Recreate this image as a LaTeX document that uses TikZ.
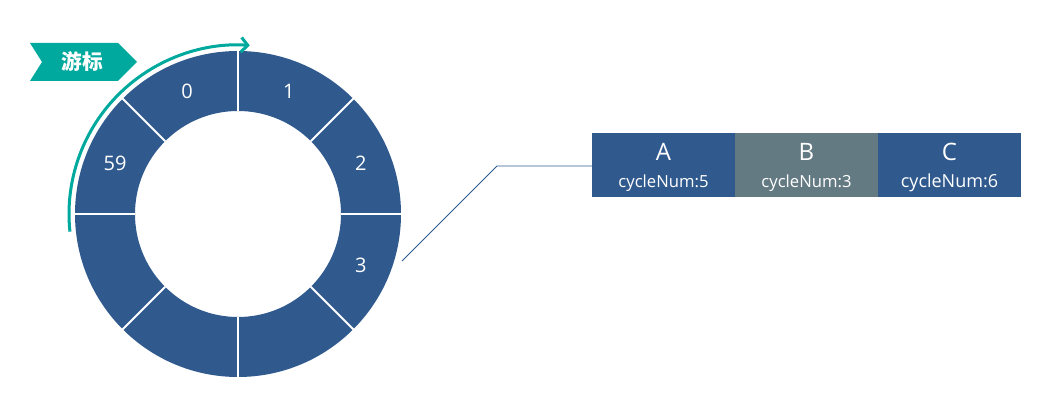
\documentclass[tikz,border=0pt]{standalone}
\usepackage{fontspec}
\setmainfont{Open Sans}
\newfontfamily\cjk{Noto Sans CJK SC}
\usetikzlibrary{arrows.meta,calc}
\definecolor{ringblue}{HTML}{305A8E}
\definecolor{slotgray}{HTML}{647A83}
\definecolor{cursorteal}{HTML}{00A99D}
\tikzset{
  slotlabel/.style={text=white, inner sep=0pt, font=\fontsize{15}{17}\selectfont},
  taskbox/.style={fill=#1, minimum width=107.25pt, minimum height=48pt, inner sep=0pt, outer sep=0pt},
  taskname/.style={text=white, inner sep=0pt, font=\fontsize{18}{21}\selectfont},
  taskcycle/.style={text=white, inner sep=0pt, font=\fontsize{#1}{15}\selectfont},
}

\begin{document}
\begin{tikzpicture}[x=0.75pt, y=0.75pt]
    \useasboundingbox (0, 0) rectangle (1049, 403);
    \coordinate (ctr) at (238, 189);
    % the wheel
    \fill[ringblue, even odd rule] (ctr) circle (163) (ctr) circle (103);
    \foreach \ang in {0, 45, ..., 315}
        \draw[white, line width=1.5pt] ($(ctr)+(\ang:103)$) -- ($(ctr)+(\ang:164)$);
    \foreach \ang/\lbl in {112.5/0, 67.5/1, 22.5/2, -22.5/3, 157.5/59}
        \node[slotlabel] (slot\lbl) at ($(ctr)+(\ang:133)$) {\lbl};
    % cursor
    \draw[cursorteal, line width=2.25pt, -{Straight Barb[length=5pt, width=11pt]}]
        ($(ctr)+(186:169)$) arc[start angle=186, end angle=86, radius=169];
    \fill[cursorteal] (30, 360) -- (118, 360) -- (137, 341) -- (118, 322) -- (30, 322) -- (42, 341) -- cycle;
    \node[text=white, inner sep=0pt, font=\cjk\bfseries\fontsize{15.5}{18}\selectfont] (cursor) at (82, 341) {游标};
    % tasks of slot 3
    \node[taskbox=ringblue, anchor=north west] (A) at (592, 270) {};
    \node[taskbox=slotgray, anchor=west] (B) at (A.east) {};
    \node[taskbox=ringblue, anchor=west] (C) at (B.east) {};
    \foreach \task/\num/\sz in {A/5/12.5, B/3/12.5, C/6/13.5} {
        \node[taskname] (\task-name) at ($(\task.center)+(0, 13)$) {\task};
        \node[taskcycle=\sz] (\task-num) at ($(\task.center)+(0, -18)$) {cycleNum:\num};
    }
    \coordinate (lead) at (402, 142);
    \coordinate (bend) at (497, 237);
    \draw[ringblue, line width=0.6pt] (lead) -- (bend) -- (A.west |- bend);
\end{tikzpicture}
\end{document}
